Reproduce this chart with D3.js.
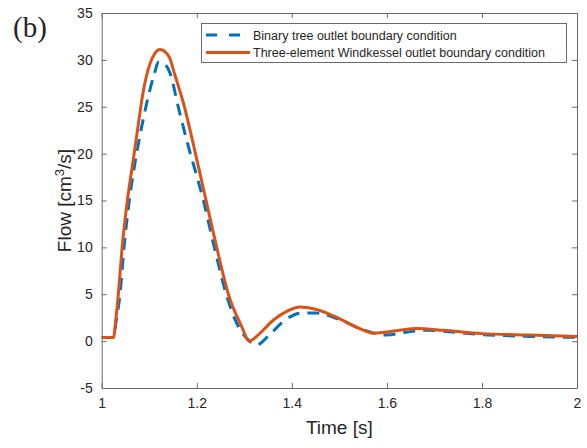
<!DOCTYPE html>
<html>
<head>
<meta charset="utf-8">
<script src="https://cdn.jsdelivr.net/npm/d3@7"></script>
<style>
  body { margin: 0; background: #fff; }
  svg text { font-family: "Liberation Sans", Arial, sans-serif; fill: #262626; }
</style>
</head>
<body>
<div id="main-container"></div>
<script>
// values
var timeTree = [1.0, 1.02, 1.025, 1.03, 1.0385, 1.047, 1.058, 1.068, 1.0785, 1.093, 1.111, 1.119, 1.132, 1.144, 1.161, 1.179, 1.214, 1.237, 1.262, 1.288, 1.305, 1.326, 1.35, 1.38, 1.42, 1.45, 1.5, 1.55, 1.6, 1.64, 1.684, 1.73, 1.8, 1.9, 2.0];
var flowTree = [0.4, 0.4, 0.4, 2, 5, 10, 15, 18.4, 21.4, 25, 28.55, 29.75, 29.55, 28.55, 25, 21.4, 15, 10, 5, 1.5, 0.3, -0.4, 0.5, 2.0, 3.0, 3.0, 2.3, 1.2, 0.65, 0.95, 1.17, 1.0, 0.7, 0.5, 0.4];

var timeWk = [1.0, 1.02, 1.025, 1.029, 1.035, 1.043, 1.054, 1.0666, 1.0764, 1.0863, 1.0933, 1.1017, 1.1107, 1.123, 1.142, 1.153, 1.174, 1.191, 1.2196, 1.242, 1.2665, 1.295, 1.31, 1.33, 1.36, 1.39, 1.417, 1.45, 1.5, 1.54, 1.572, 1.62, 1.663, 1.72, 1.8, 1.9, 2.0];
var flowWk = [0.4, 0.4, 0.4, 2, 5, 10, 15, 19.4, 22.9, 26.3, 28.1, 29.6, 30.6, 31.1, 30.3, 28.55, 25, 21.4, 15, 10, 5, 1.5, 0, 0.7, 2.2, 3.2, 3.65, 3.4, 2.4, 1.4, 0.85, 1.1, 1.35, 1.15, 0.8, 0.65, 0.5];

var xTicks = [1, 1.2, 1.4, 1.6, 1.8, 2];
var yTicks = [-5, 0, 5, 10, 15, 20, 25, 30, 35];
var legendLabels = ["Binary tree outlet boundary condition", "Three-element Windkessel outlet boundary condition"];

var W = 587, H = 448;
var mLeft = 101.7, mRight = 577, mTop = 13, mBottom = 388;

var svg = d3.select("#main-container").append("svg")
  .attr("width", W).attr("height", H);

var x = d3.scaleLinear().domain([1, 2]).range([mLeft, mRight]);
var y = d3.scaleLinear().domain([-5, 35]).range([mBottom, mTop]);

var axisColor = "#6a6a6a";

// curves
var line = d3.line()
  .x(function(d) { return x(d[0]); })
  .y(function(d) { return y(d[1]); })
  .curve(d3.curveMonotoneX);

var treeData = timeTree.map(function(t, i) { return [t, flowTree[i]]; });
var wkData = timeWk.map(function(t, i) { return [t, flowWk[i]]; });

svg.append("path").datum(treeData)
  .attr("d", line)
  .attr("fill", "none")
  .attr("stroke", "#0072BD")
  .attr("stroke-width", 3)
  .attr("stroke-dasharray", "12,8");

svg.append("path").datum(wkData)
  .attr("d", line)
  .attr("fill", "none")
  .attr("stroke", "#D95319")
  .attr("stroke-width", 3);

// axes
var fmt = function(d) { return String(d); };
var xAxis = svg.append("g")
  .attr("transform", "translate(0," + mBottom + ")")
  .call(d3.axisBottom(x).tickValues(xTicks).tickSizeInner(-5).tickSizeOuter(0).tickPadding(10).tickFormat(fmt));
var xAxisTop = svg.append("g")
  .attr("transform", "translate(0," + mTop + ")")
  .call(d3.axisTop(x).tickValues(xTicks).tickSizeInner(-5).tickSizeOuter(0).tickFormat(""));
var yAxis = svg.append("g")
  .attr("transform", "translate(" + mLeft + ",0)")
  .call(d3.axisLeft(y).tickValues(yTicks).tickSizeInner(-5).tickSizeOuter(0).tickPadding(9).tickFormat(fmt));
var yAxisRight = svg.append("g")
  .attr("transform", "translate(" + mRight + ",0)")
  .call(d3.axisRight(y).tickValues(yTicks).tickSizeInner(-5).tickSizeOuter(0).tickFormat(""));

[xAxis, xAxisTop, yAxis, yAxisRight].forEach(function(g) {
  g.select(".domain").attr("stroke", axisColor);
  g.selectAll(".tick line").attr("stroke", axisColor);
  g.selectAll(".tick text").attr("font-size", 14).attr("fill", "#262626")
    .style("font-family", "'Liberation Sans', Arial, sans-serif");
});

// axis labels
svg.append("text")
  .attr("x", (mLeft + mRight) / 2)
  .attr("y", 434)
  .attr("text-anchor", "middle")
  .attr("font-size", 19)
  .text("Time [s]");

var yl = svg.append("text")
  .attr("transform", "translate(71," + y(15) + ") rotate(-90)")
  .attr("text-anchor", "middle")
  .attr("font-size", 19);
yl.append("tspan").text("Flow [cm");
yl.append("tspan").attr("font-size", 13).attr("dy", -7).text("3");
yl.append("tspan").attr("dy", 7).text("/s]");

// panel letter
svg.append("text")
  .attr("x", 13)
  .attr("y", 37)
  .attr("font-size", 29)
  .style("font-family", "'Liberation Serif', 'Times New Roman', serif")
  .attr("fill", "#000")
  .text("(b)");

// legend
var lg = svg.append("g");
lg.append("rect")
  .attr("x", 201.5).attr("y", 23.5)
  .attr("width", 365).attr("height", 39)
  .attr("fill", "#fff")
  .attr("stroke", axisColor)
  .attr("stroke-width", 1);

var legendColors = ["#0072BD", "#D95319"];
var legendDash = ["11,12", null];
legendLabels.forEach(function(lbl, i) {
  var cy = 35 + i * 17.5;
  lg.append("line")
    .attr("x1", 206).attr("x2", 250)
    .attr("y1", cy).attr("y2", cy)
    .attr("stroke", legendColors[i])
    .attr("stroke-width", 3)
    .attr("stroke-dasharray", legendDash[i]);
  lg.append("text")
    .attr("x", 253).attr("y", cy + 4.5)
    .attr("font-size", 12.5)
    .text(lbl);
});
</script>
</body>
</html>
